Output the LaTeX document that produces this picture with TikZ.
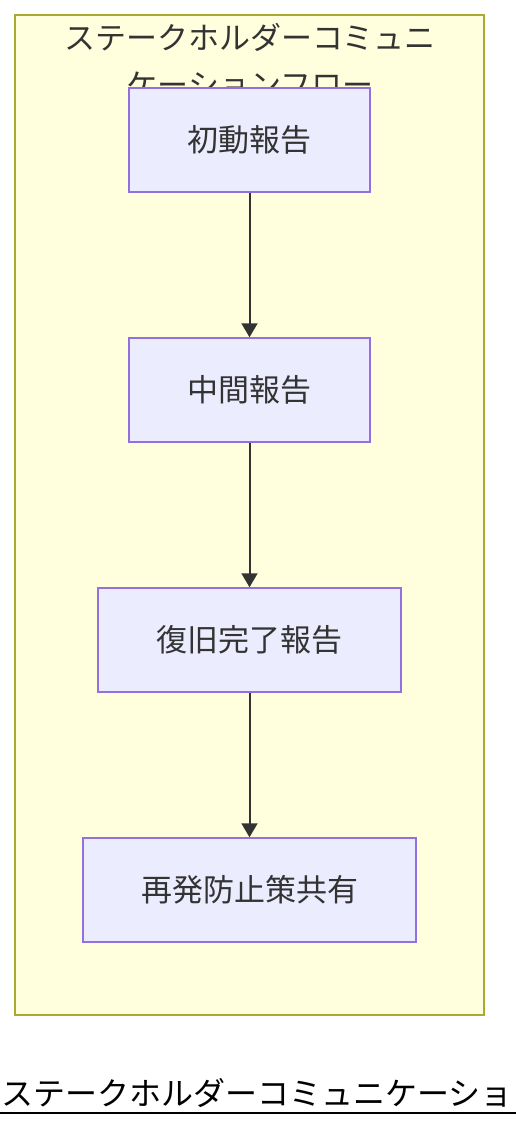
\documentclass[tikz,border=0pt]{standalone}
\usepackage{fontspec}
\setmainfont{Noto Sans CJK JP}
\usetikzlibrary{arrows.meta}
\definecolor{cluster_fill}{HTML}{FFFFDE}
\definecolor{cluster_line}{HTML}{AAAA33}
\definecolor{box_fill}{HTML}{ECECFF}
\definecolor{box_line}{HTML}{9370DB}
\definecolor{dark_grey}{HTML}{333333}

\begin{document}
\begin{tikzpicture}[x=1pt,y=-1pt,
        etape/.style={draw=box_line, fill=box_fill, line width=1.5pt, text=dark_grey, minimum height=104pt, inner sep=0pt, font=\fontsize{31}{36}\selectfont},
        fleche/.style={draw=dark_grey, line width=2pt, -{Triangle[width=16pt,length=14pt]}}]
        \useasboundingbox (0,0) rectangle (516,1128);
        % Cadre du groupe
        \draw[draw=cluster_line, fill=cluster_fill, line width=1.5pt] (15,15) rectangle (484,1015);
        \node[text=dark_grey, align=center, font=\fontsize{31}{47}\selectfont] (titre) at (250,61) {ステークホルダーコミュニ\\ケーションフロー};
        % Etapes
        \node[etape, minimum width=241pt] (initial) at (249.5,140) {初動報告};
        \node[etape, minimum width=241pt] (intermediaire) at (249.5,390) {中間報告};
        \node[etape, minimum width=303pt] (retablissement) at (249.5,640) {復旧完了報告};
        \node[etape, minimum width=333pt] (prevention) at (249.5,890) {再発防止策共有};
        % Fleches
        \draw[fleche] (initial) -- (intermediaire);
        \draw[fleche] (intermediaire) -- (retablissement);
        \draw[fleche] (retablissement) -- (prevention);
        % Legende
        \node[anchor=base west, inner sep=0pt, font=\fontsize{32}{32}\selectfont] (legende) at (1,1105) {ステークホルダーコミュニケーショ};
        \draw[line width=2pt] (0,1113) -- (516,1113);
    \end{tikzpicture}
\end{document}
